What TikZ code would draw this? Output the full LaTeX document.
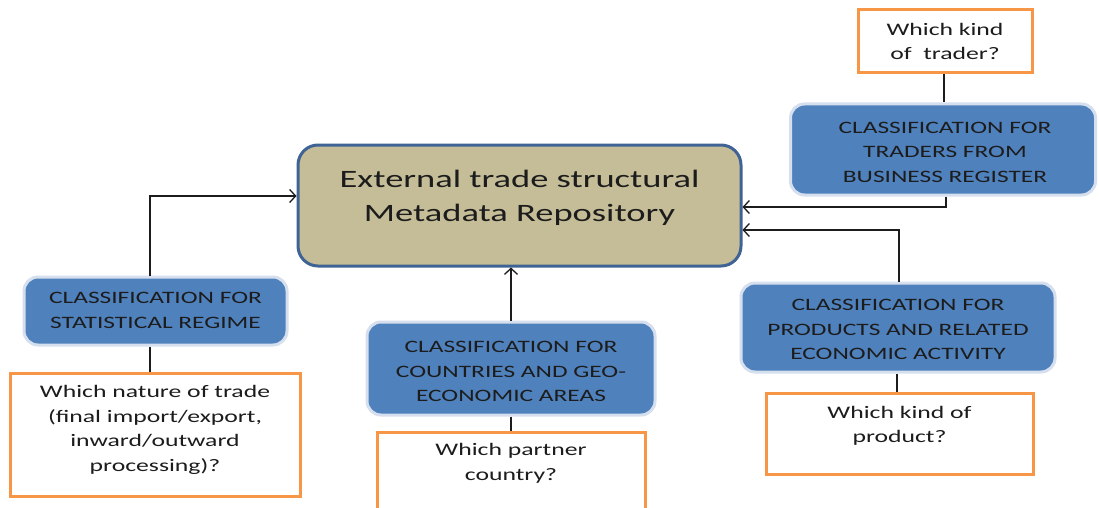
\documentclass[tikz,border=0pt]{standalone}
\usepackage{fontspec}
\setmainfont{Carlito}[FakeStretch=1.46]
\usetikzlibrary{arrows.meta}
\definecolor{tan}{HTML}{C4BD97}
\definecolor{mainedge}{HTML}{3F6394}
\definecolor{bluefill}{HTML}{4F81BD}
\definecolor{blueedge}{HTML}{D5DFEE}
\definecolor{orangeedge}{HTML}{F79646}
\definecolor{ink}{HTML}{1C1C1C}

\begin{document}
\begin{tikzpicture}[x=1pt,y=-1pt,
  mainbox/.style={draw=mainedge, fill=tan, line width=3pt, rounded corners=20pt, inner sep=0pt},
  bluebox/.style={draw=blueedge, fill=bluefill, line width=3pt, rounded corners=14pt, inner sep=0pt},
  qbox/.style={draw=orangeedge, fill=white, line width=3pt, inner sep=0pt},
  maintext/.style={font=\fontsize{25}{34}\selectfont, align=center, text=ink, inner sep=0pt},
  bluetext/.style={font=\fontsize{17.4}{24.5}\selectfont, align=center, text=ink, inner sep=0pt},
  qtext/.style={font=\fontsize{17.6}{24.5}\selectfont, align=center, text=ink, inner sep=0pt},
  link/.style={line width=1.3pt, draw=ink},
  feed/.style={line width=1.3pt, draw=ink, -{Straight Barb[length=6pt,width=13pt]}}]

\useasboundingbox (0,0) rectangle (1099,508);
\clip (0,0) rectangle (1099,508);
\fill[white] (0,0) rectangle (1099,508);

% central repository
\node[mainbox, minimum width=443pt, minimum height=121pt] (main) at (519.5,205.5) {};
\node[maintext] (main-txt) at (519.5,198) {External trade structural\\Metadata Repository};

% traders
\node[qbox, minimum width=174pt, minimum height=63pt] (traderq) at (945,41.5) {};
\node[qtext] (traderq-txt) at (945,41.5) {Which kind\\of\ \ trader?};
\node[bluebox, minimum width=305pt, minimum height=91pt] (traders) at (943,149.5) {};
\node[bluetext] (traders-txt) at (945,152) {CLASSIFICATION FOR\\TRADERS FROM\\BUSINESS REGISTER};

% products
\node[bluebox, minimum width=314pt, minimum height=89pt] (products) at (898,327.5) {};
\node[bluetext] (products-txt) at (898,329.5) {CLASSIFICATION FOR\\PRODUCTS AND RELATED\\ECONOMIC ACTIVITY};
\node[qbox, minimum width=267pt, minimum height=81pt] (productq) at (899.5,433.5) {};
\node[qtext] (productq-txt) at (899.5,426) {Which kind of\\product?};

% statistical regime
\node[bluebox, minimum width=263pt, minimum height=68pt] (regime) at (155.5,311) {};
\node[bluetext] (regime-txt) at (155.5,310.5) {CLASSIFICATION FOR\\STATISTICAL REGIME};
\node[qbox, minimum width=290pt, minimum height=123pt] (regimeq) at (155,434.5) {};
\node[qtext] (regimeq-txt) at (155,430) {Which nature of trade\\(final import/export,\\inward/outward\\processing)?};

% countries
\node[bluebox, minimum width=288pt, minimum height=93pt] (countries) at (511,368.5) {};
\node[bluetext] (countries-txt) at (511,371.5) {CLASSIFICATION FOR\\COUNTRIES AND GEO-\\ECONOMIC AREAS};
\node[qbox, minimum width=268pt, minimum height=98pt] (partnerq) at (511,481) {};
\node[qtext] (partnerq-txt) at (511,463.5) {Which partner\\country?};

% question boxes hang from their classifications
\draw[link] ([xshift=-1pt]traderq.south) -- ([xshift=-1pt]traderq.south |- traders.north);
\draw[link] ([xshift=-1pt]products.south) -- ([xshift=-1pt]products.south |- productq.north);
\draw[link] ([xshift=-5.5pt]regime.south) -- ([xshift=-5.5pt]regime.south |- regimeq.north);
\draw[link] (countries.south) -- (countries.south |- partnerq.north);

% classifications feed the repository
\draw[feed] ([xshift=3pt]traders.south) |- ([yshift=-1.5pt]main.east);
\draw[feed] ([xshift=1pt]products.north) |- ([yshift=-24.5pt]main.east);
\draw[feed] ([xshift=-5.5pt]regime.north) |- ([yshift=9.5pt]main.west);
\draw[feed] (countries.north) -- (countries.north |- main.south);
\end{tikzpicture}
\end{document}
